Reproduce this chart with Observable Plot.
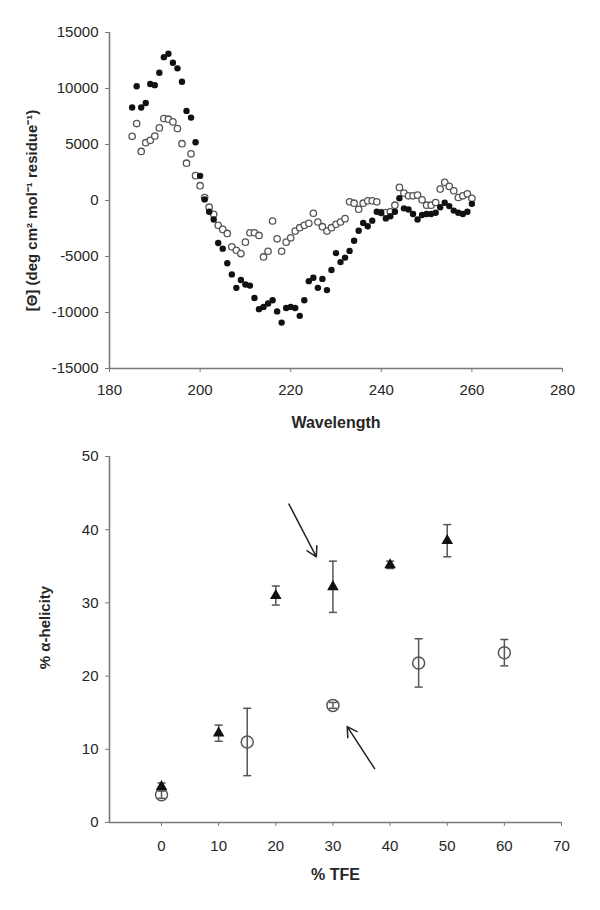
<!DOCTYPE html>
<html><head><meta charset="utf-8">
<script src="https://cdn.jsdelivr.net/npm/d3@7"></script>
<script src="https://cdn.jsdelivr.net/npm/@observablehq/plot@0.6"></script>
<style>
body{margin:0;background:#fff;}
#chart{width:600px;height:910px;background:#fff;}
#chart svg{display:block;}
</style>
</head><body><div id="chart"></div>
<script>
// ---------- Top panel: CD spectra ----------
const wavelength = [185,186,187,188,189,190,191,192,193,194,195,196,197,198,199,200,201,202,203,204,205,206,207,208,209,210,211,212,213,214,215,216,217,218,219,220,221,222,223,224,225,226,227,228,229,230,231,232,233,234,235,236,237,238,239,240,241,242,243,244,245,246,247,248,249,250,251,252,253,254,255,256,257,258,259,260];
const thetaFilled = [8300,10200,8300,8700,10400,10300,11400,12800,13100,12300,11800,10600,8000,7400,5200,2200,100,-1000,-1700,-3800,-4300,-5600,-6600,-7800,-7100,-7500,-7600,-8700,-9700,-9500,-9200,-8900,-9900,-10900,-9600,-9500,-9600,-10300,-8900,-7200,-6900,-7800,-7000,-8000,-6200,-4700,-5500,-5100,-4500,-3600,-2700,-2000,-2300,-1800,-1000,-1100,-1600,-1400,-1000,200,-700,-800,-1200,-1700,-1300,-1200,-1200,-1100,-600,-200,-500,-900,-1100,-1200,-1000,-300];
const thetaOpen = [5730,6870,4380,5160,5370,5760,6480,7320,7260,7020,6420,5070,3330,4170,2220,1320,270,-600,-1230,-2220,-2580,-2940,-4140,-4440,-4740,-3720,-2880,-2880,-3120,-5040,-4530,-1830,-3420,-4530,-3720,-3330,-2730,-2430,-2220,-2040,-1140,-1920,-2340,-2730,-2430,-2130,-1920,-1620,-120,-240,-780,-240,-30,-30,-120,-1080,-1080,-1020,-420,1170,660,420,420,480,60,-420,-420,-180,1020,1620,1260,870,270,420,600,200];
const topXTicks = [180,200,220,240,260,280];
const topYTicks = [-15000,-10000,-5000,0,5000,10000,15000];
const topXLabel = "Wavelength";
const topYLabel = "[\u0398] (deg cm\u00B2 mol\u207B\u00B9 residue\u207B\u00B9)";

// ---------- Bottom panel: % helicity vs % TFE ----------
const tfeTriangle = [0,10,20,30,40,50];
const helixTriangle = [4.9,12.2,31.0,32.2,35.2,38.5];
const errTriangle = [0.5,1.1,1.3,3.5,0.5,2.2];
const tfeCircle = [0,15,30,45,60];
const helixCircle = [3.8,11.0,16.0,21.8,23.2];
const errCircle = [0.5,4.6,0.4,3.3,1.8];
const bottomXTicks = [0,10,20,30,40,50,60,70];
const bottomYTicks = [0,10,20,30,40,50];
const bottomXLabel = "% TFE";
const bottomYLabel = "% \u03B1-helicity";
// annotation arrows (tail -> head), in data units
const arrowX1 = [22.3,37.3];
const arrowY1 = [43.5,7.35];
const arrowX2 = [27.1,32.5];
const arrowY2 = [36.3,13.1];

const font = "'Liberation Sans', Arial, sans-serif";
const axisGray = "#7a7a7a";
const textGray = "#262626";

const filled = wavelength.map((w,i)=>({w, v: thetaFilled[i]}));
const open = wavelength.map((w,i)=>({w, v: thetaOpen[i]}));

const topXDomain = [180,280], topYDomain = [-15000,15000];
const topPlot = Plot.plot({
  width: 600, height: 450,
  marginLeft: 109, marginRight: 38, marginTop: 32, marginBottom: 82,
  style: {fontFamily: font, fontSize: "15px", color: textGray, background: "white", overflow: "visible"},
  x: {domain: topXDomain},
  y: {domain: topYDomain},
  marks: [
    Plot.ruleX([topXDomain[0]], {stroke: axisGray, strokeWidth: 1.6}),
    Plot.ruleY([topYDomain[0]], {stroke: axisGray, strokeWidth: 1.6}),
    Plot.axisX({ticks: topXTicks, tickSize: 4, tickPadding: 12, tickFormat: d => String(d), label: null, stroke: axisGray, fill: textGray}),
    Plot.axisY({ticks: topYTicks, tickSize: 4, tickPadding: 7, tickFormat: d => String(d), label: null, stroke: axisGray, fill: textGray}),
    Plot.dot(open, {x: "w", y: "v", r: 3.2, fill: "white", stroke: "#555", strokeWidth: 1.3}),
    Plot.dot(filled, {x: "w", y: "v", r: 3.2, fill: "#111", stroke: "none"}),
    Plot.text([topXLabel], {frameAnchor: "bottom", dy: 59, fontSize: 16, fontWeight: "bold", fill: textGray}),
    Plot.text([topYLabel], {frameAnchor: "left", textAnchor: "middle", rotate: -90, dx: -77, dy: 10, fontSize: 15, fontWeight: "bold", fill: textGray})
  ]
});

const capSymbol = {
  draw(context, size) {
    const w = Math.sqrt(size / Math.PI);
    context.moveTo(-w, 0);
    context.lineTo(w, 0);
  }
};

const tri = tfeTriangle.map((x,i)=>({x, y: helixTriangle[i], lo: helixTriangle[i]-errTriangle[i], hi: helixTriangle[i]+errTriangle[i]}));
const circ = tfeCircle.map((x,i)=>({x, y: helixCircle[i], lo: helixCircle[i]-errCircle[i], hi: helixCircle[i]+errCircle[i]}));
const arrows = arrowX1.map((x1,i)=>({x1, y1: arrowY1[i], x2: arrowX2[i], y2: arrowY2[i]}));

const botXDomain = [-9.1,70], botYDomain = [0,50];
const errMarks = (data) => [
  Plot.ruleX(data, {x: "x", y1: "lo", y2: "hi", stroke: "#555", strokeWidth: 1.5}),
  Plot.dot(data, {x: "x", y: "lo", symbol: capSymbol, r: 4, stroke: "#555", strokeWidth: 1.5, fill: "none"}),
  Plot.dot(data, {x: "x", y: "hi", symbol: capSymbol, r: 4, stroke: "#555", strokeWidth: 1.5, fill: "none"})
];

const bottomPlot = Plot.plot({
  width: 600, height: 460,
  marginLeft: 109, marginRight: 39, marginTop: 6, marginBottom: 88,
  style: {fontFamily: font, fontSize: "15px", color: textGray, background: "white", overflow: "visible"},
  x: {domain: botXDomain},
  y: {domain: botYDomain},
  marks: [
    Plot.ruleX([botXDomain[0]], {stroke: axisGray, strokeWidth: 1.6}),
    Plot.ruleY([botYDomain[0]], {stroke: axisGray, strokeWidth: 1.6}),
    Plot.axisX({ticks: bottomXTicks, tickSize: 4, tickPadding: 14, tickFormat: d => String(d), label: null, stroke: axisGray, fill: textGray}),
    Plot.axisY({ticks: bottomYTicks, tickSize: 4, tickPadding: 7, tickFormat: d => String(d), label: null, stroke: axisGray, fill: textGray}),
    ...errMarks(circ),
    Plot.dot(circ, {x: "x", y: "y", r: 6, fill: "none", stroke: "#555", strokeWidth: 1.5}),
    ...errMarks(tri),
    Plot.dot(tri, {x: "x", y: "y", symbol: "triangle", r: 4.3, fill: "#111", stroke: "none"}),
    Plot.arrow(arrows, {x1: "x1", y1: "y1", x2: "x2", y2: "y2", stroke: "#222", strokeWidth: 1.5, headLength: 11}),
    Plot.text([bottomXLabel], {frameAnchor: "bottom", dy: 57, fontSize: 16, fontWeight: "bold", fill: textGray}),
    Plot.text([bottomYLabel], {frameAnchor: "left", textAnchor: "middle", rotate: -90, dx: -64, dy: -12, fontSize: 15, fontWeight: "bold", fill: textGray})
  ]
});

const chart = document.getElementById("chart");
chart.appendChild(topPlot);
chart.appendChild(bottomPlot);
</script>
</body></html>
